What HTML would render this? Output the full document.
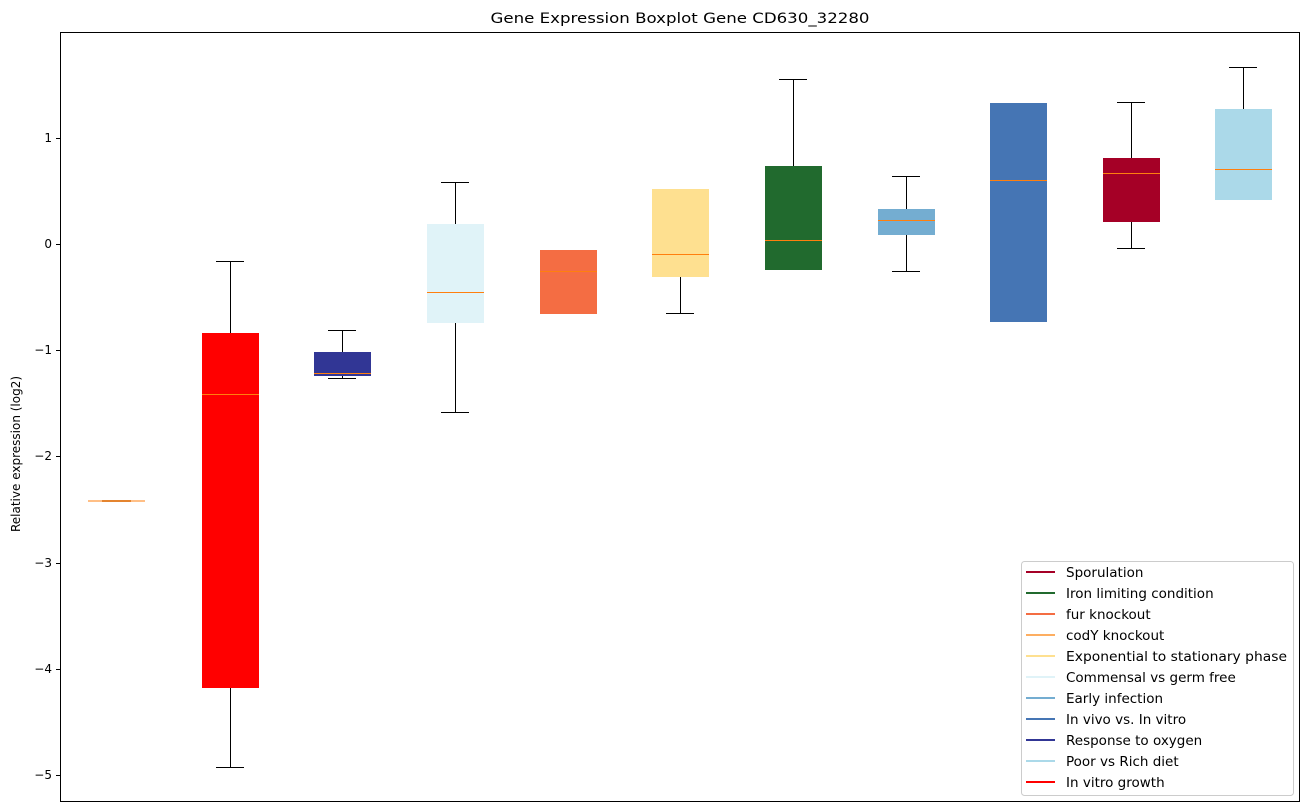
<!DOCTYPE html>
<html><head><meta charset="utf-8"><style>body{margin:0;background:#fff}svg{display:block;font-family:"DejaVu Sans","Liberation Sans",sans-serif}</style></head><body>
<svg width="1309" height="812" xmlns="http://www.w3.org/2000/svg">
<text x="680" y="23" font-size="14" text-anchor="middle" textLength="379" lengthAdjust="spacingAndGlyphs">Gene Expression Boxplot Gene CD630_32280</text>
<text transform="translate(20,454) rotate(-90)" font-size="12" text-anchor="middle">Relative expression (log2)</text>
<g font-size="12" text-anchor="end" stroke-width="1">
<line x1="56" y1="138.5" x2="60.5" y2="138.5" stroke="#000"/><text x="52" y="142">1</text>
<line x1="56" y1="244.5" x2="60.5" y2="244.5" stroke="#000"/><text x="52" y="248">0</text>
<line x1="56" y1="350.5" x2="60.5" y2="350.5" stroke="#000"/><text x="52" y="354">−1</text>
<line x1="56" y1="456.5" x2="60.5" y2="456.5" stroke="#000"/><text x="52" y="460">−2</text>
<line x1="56" y1="563.5" x2="60.5" y2="563.5" stroke="#000"/><text x="52" y="567">−3</text>
<line x1="56" y1="669.5" x2="60.5" y2="669.5" stroke="#000"/><text x="52" y="673">−4</text>
<line x1="56" y1="775.5" x2="60.5" y2="775.5" stroke="#000"/><text x="52" y="779">−5</text>
</g>
<g stroke="#000" stroke-width="1">
<rect x="102" y="500" width="29" height="2" fill="#c88a50" stroke="none"/>
<line x1="88" y1="501" x2="145" y2="501" stroke="#ff7f0e"/>
<line x1="230.5" y1="261" x2="230.5" y2="333"/><line x1="216" y1="261.5" x2="244" y2="261.5"/>
<line x1="230.5" y1="688" x2="230.5" y2="767"/><line x1="216" y1="767.5" x2="244" y2="767.5"/>
<rect x="202" y="333" width="57" height="355" fill="#ff0000" stroke="none"/>
<line x1="202" y1="394.5" x2="259" y2="394.5" stroke="#ff7f0e"/>
<line x1="342.5" y1="330" x2="342.5" y2="352"/><line x1="328" y1="330.5" x2="356" y2="330.5"/>
<line x1="342.5" y1="376" x2="342.5" y2="378"/><line x1="328" y1="378.5" x2="356" y2="378.5"/>
<rect x="314" y="352" width="57" height="24" fill="#313695" stroke="none"/>
<line x1="314" y1="373.5" x2="371" y2="373.5" stroke="#ff7f0e"/>
<line x1="455.5" y1="182" x2="455.5" y2="224"/><line x1="441" y1="182.5" x2="469" y2="182.5"/>
<line x1="455.5" y1="323" x2="455.5" y2="412"/><line x1="441" y1="412.5" x2="469" y2="412.5"/>
<rect x="427" y="224" width="57" height="99" fill="#e0f3f8" stroke="none"/>
<line x1="427" y1="292.5" x2="484" y2="292.5" stroke="#ff7f0e"/>
<rect x="540" y="250" width="57" height="64" fill="#f46d43" stroke="none"/>
<line x1="540" y1="271.5" x2="597" y2="271.5" stroke="#ff7f0e"/>
<line x1="680.5" y1="277" x2="680.5" y2="313"/><line x1="666" y1="313.5" x2="694" y2="313.5"/>
<rect x="652" y="189" width="57" height="88" fill="#fee090" stroke="none"/>
<line x1="652" y1="254.5" x2="709" y2="254.5" stroke="#ff7f0e"/>
<line x1="793.5" y1="79" x2="793.5" y2="166"/><line x1="779" y1="79.5" x2="807" y2="79.5"/>
<rect x="765" y="166" width="57" height="104" fill="#216a2e" stroke="none"/>
<line x1="765" y1="240.5" x2="822" y2="240.5" stroke="#ff7f0e"/>
<line x1="906.5" y1="176" x2="906.5" y2="209"/><line x1="892" y1="176.5" x2="920" y2="176.5"/>
<line x1="906.5" y1="235" x2="906.5" y2="271"/><line x1="892" y1="271.5" x2="920" y2="271.5"/>
<rect x="878" y="209" width="57" height="26" fill="#74add1" stroke="none"/>
<line x1="878" y1="220.5" x2="935" y2="220.5" stroke="#ff7f0e"/>
<rect x="990" y="103" width="57" height="219" fill="#4575b4" stroke="none"/>
<line x1="990" y1="180.5" x2="1047" y2="180.5" stroke="#ff7f0e"/>
<line x1="1131.5" y1="102" x2="1131.5" y2="158"/><line x1="1117" y1="102.5" x2="1145" y2="102.5"/>
<line x1="1131.5" y1="222" x2="1131.5" y2="248"/><line x1="1117" y1="248.5" x2="1145" y2="248.5"/>
<rect x="1103" y="158" width="57" height="64" fill="#a50026" stroke="none"/>
<line x1="1103" y1="173.5" x2="1160" y2="173.5" stroke="#ff7f0e"/>
<line x1="1243.5" y1="67" x2="1243.5" y2="109"/><line x1="1229" y1="67.5" x2="1257" y2="67.5"/>
<rect x="1215" y="109" width="57" height="91" fill="#abd9e9" stroke="none"/>
<line x1="1215" y1="169.5" x2="1272" y2="169.5" stroke="#ff7f0e"/>
</g>
<rect x="60.5" y="32.5" width="1239" height="769" fill="none" stroke="#000" stroke-width="1"/>
<rect x="1021.5" y="561.5" width="272" height="234" rx="3" fill="#fff" fill-opacity="0.8" stroke="#ccc"/>
<g font-size="13.5" stroke-width="2">
<line x1="1026" y1="572" x2="1055" y2="572" stroke="#a50026"/><text x="1066" y="577">Sporulation</text>
<line x1="1026" y1="593" x2="1055" y2="593" stroke="#216a2e"/><text x="1066" y="598">Iron limiting condition</text>
<line x1="1026" y1="614" x2="1055" y2="614" stroke="#f46d43"/><text x="1066" y="619">fur knockout</text>
<line x1="1026" y1="635" x2="1055" y2="635" stroke="#fdae61"/><text x="1066" y="640">codY knockout</text>
<line x1="1026" y1="656" x2="1055" y2="656" stroke="#fee090"/><text x="1066" y="661" textLength="221" lengthAdjust="spacingAndGlyphs">Exponential to stationary phase</text>
<line x1="1026" y1="677" x2="1055" y2="677" stroke="#e0f3f8"/><text x="1066" y="682">Commensal vs germ free</text>
<line x1="1026" y1="698" x2="1055" y2="698" stroke="#74add1"/><text x="1066" y="703">Early infection</text>
<line x1="1026" y1="719" x2="1055" y2="719" stroke="#4575b4"/><text x="1066" y="724">In vivo vs. In vitro</text>
<line x1="1026" y1="740" x2="1055" y2="740" stroke="#313695"/><text x="1066" y="745">Response to oxygen</text>
<line x1="1026" y1="761" x2="1055" y2="761" stroke="#abd9e9"/><text x="1066" y="766">Poor vs Rich diet</text>
<line x1="1026" y1="782" x2="1055" y2="782" stroke="#ff0000"/><text x="1066" y="787">In vitro growth</text>
</g>
</svg>
</body></html>
